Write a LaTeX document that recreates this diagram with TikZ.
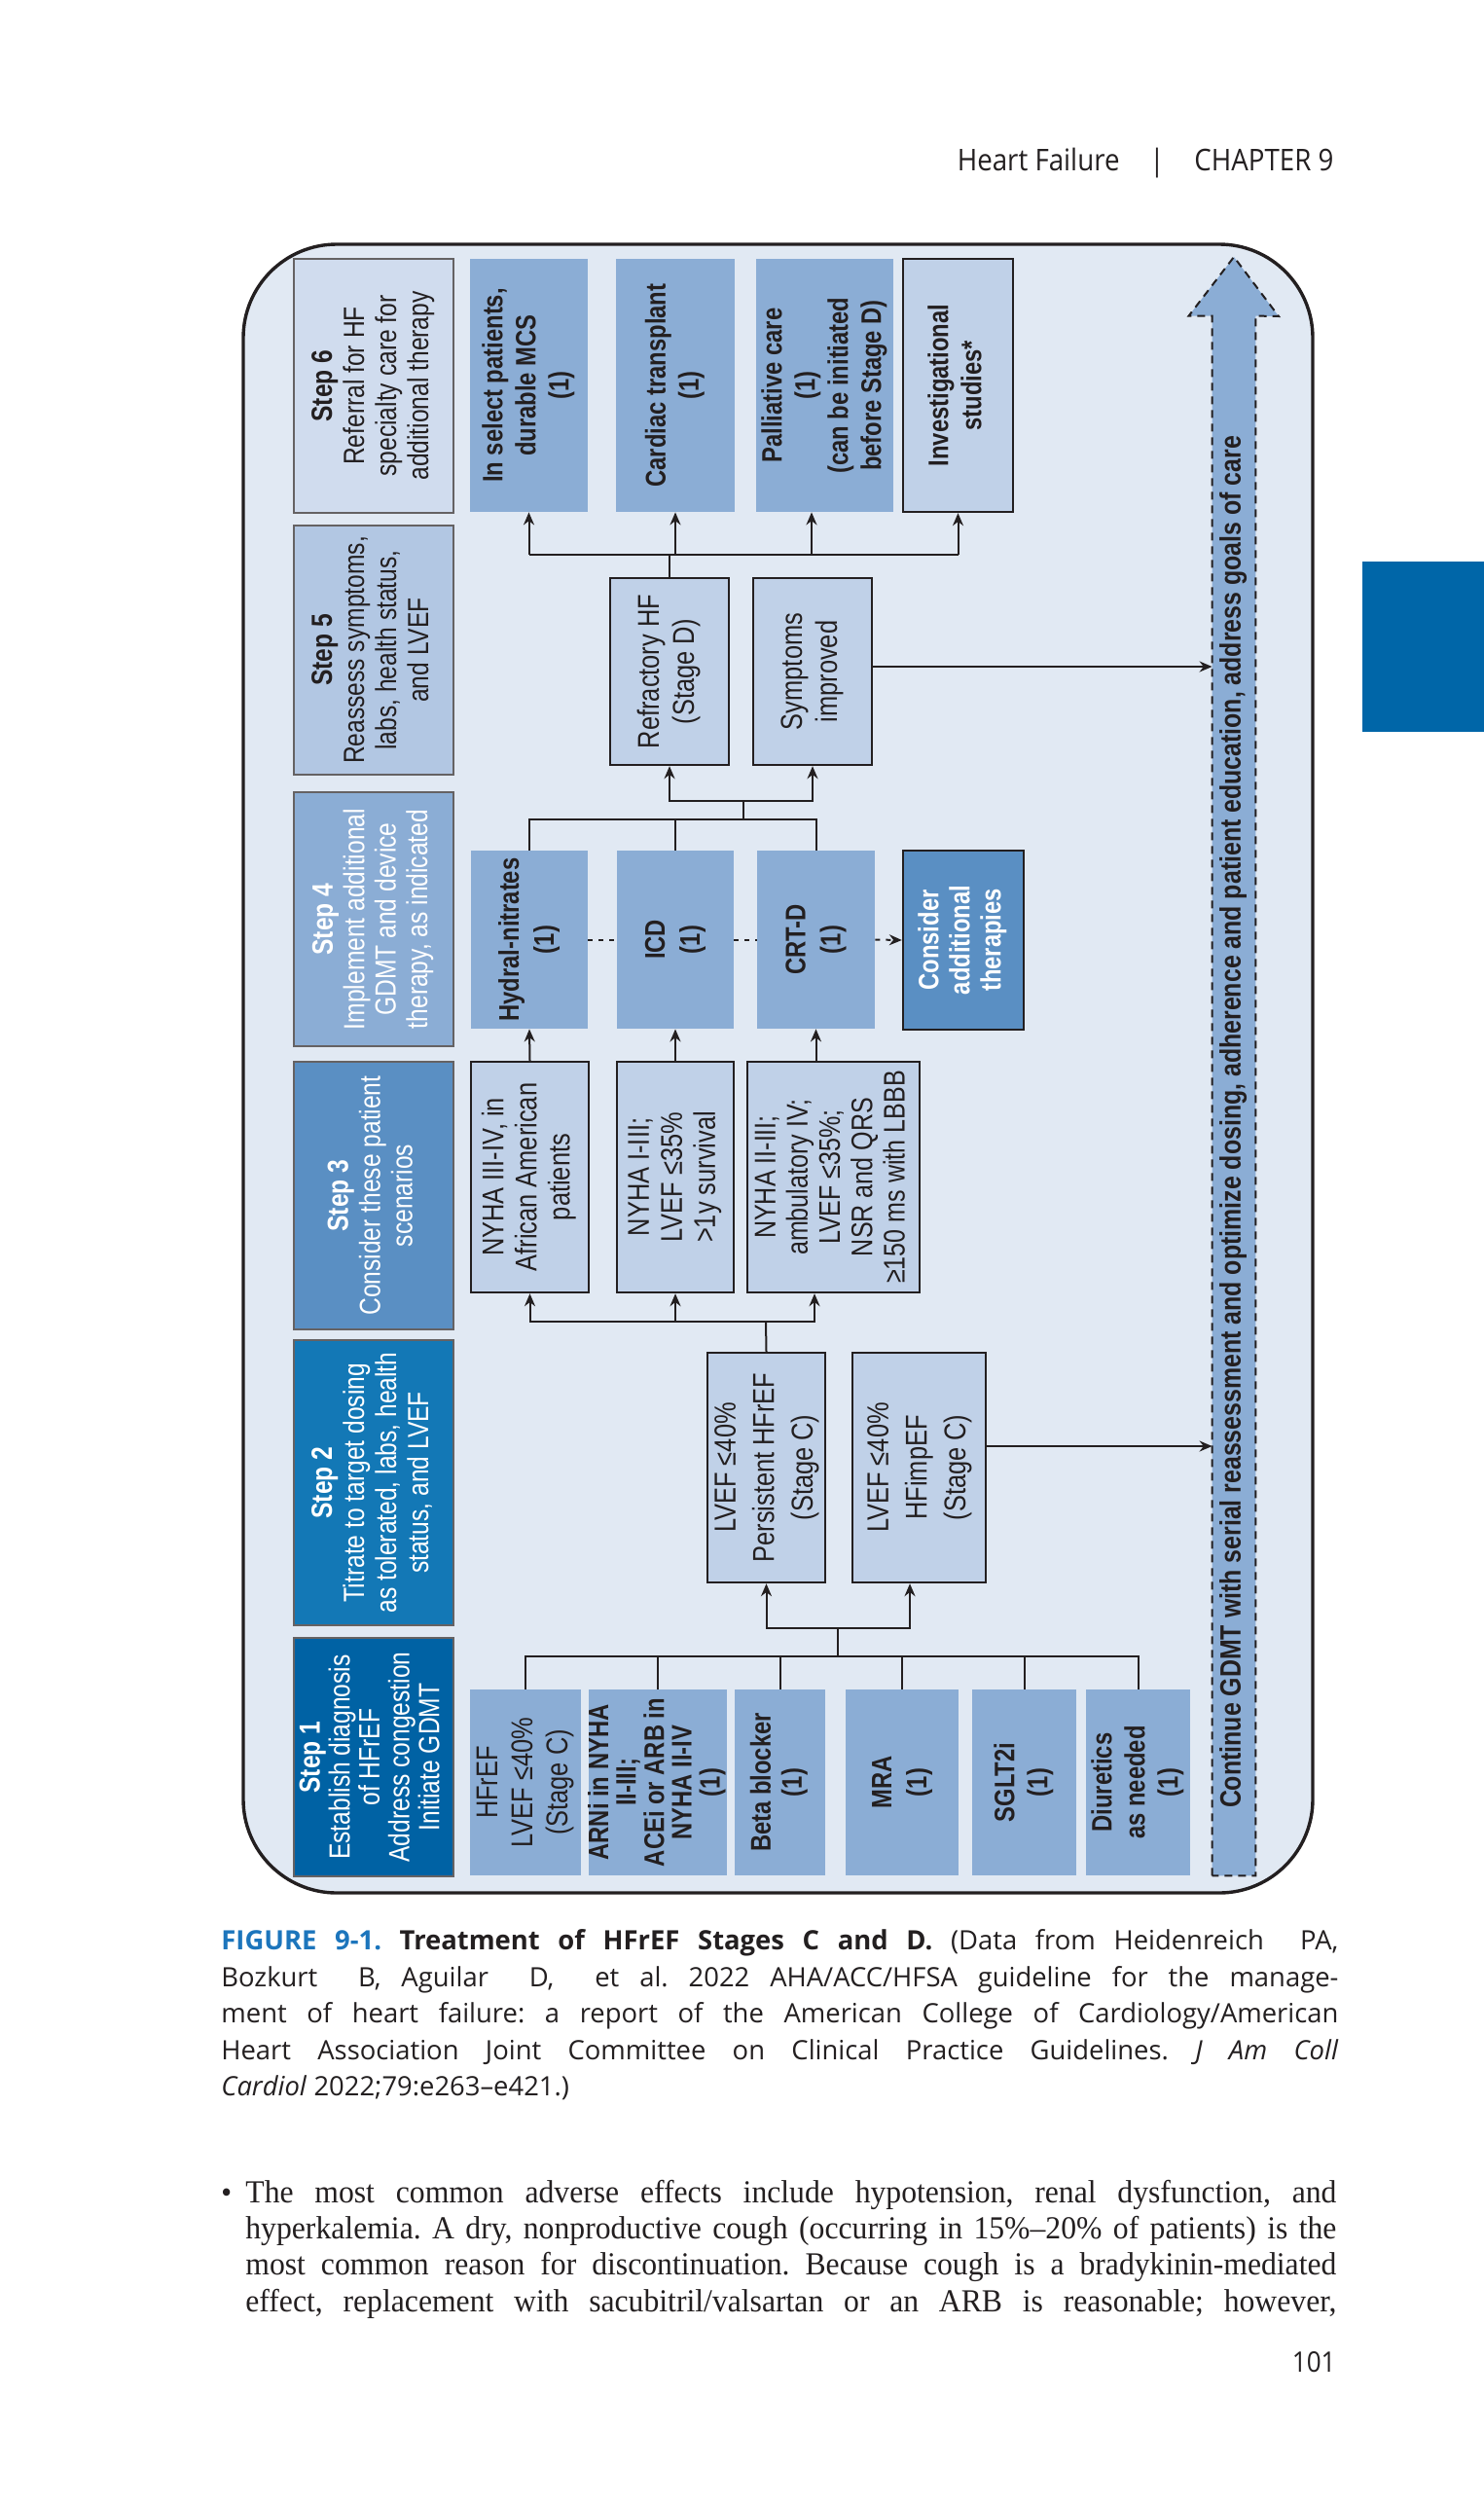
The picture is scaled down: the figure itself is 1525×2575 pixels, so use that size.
\documentclass[tikz,border=0pt]{standalone}
\usepackage{fontspec}
\usetikzlibrary{arrows.meta}
\setmainfont{Liberation Serif}
\newfontfamily\hv[FakeStretch=0.82]{Liberation Sans}
\newfontfamily\hvc[FakeStretch=0.83]{Liberation Sans}
\newfontfamily\myr[FakeStretch=0.9]{Open Sans}
\newfontfamily\myrc{Open Sans}
\newfontfamily\minion[FakeStretch=0.96]{Liberation Serif}
\frenchspacing
\definecolor{bg}{HTML}{E1E9F3}
\definecolor{sA}{HTML}{0062A4}
\definecolor{sB}{HTML}{1378B6}
\definecolor{sC}{HTML}{5A8FC3}
\definecolor{sD}{HTML}{8BADD5}
\definecolor{sE}{HTML}{B2C7E3}
\definecolor{sF}{HTML}{D0DCEE}
\definecolor{med}{HTML}{8BADD5}
\definecolor{light}{HTML}{C0D1E8}
\definecolor{ink}{HTML}{231F20}
\definecolor{tab}{HTML}{0066A8}
\definecolor{figblue}{HTML}{1C75BC}
\newcommand\rt[1]{\makebox[0pt]{\raisebox{-0.5\height}[0pt][0pt]{\rotatebox{90}{\begin{tabular}{@{}c@{}}#1\end{tabular}}}}}
\newcommand\fS{\hv\fontsize{15}{16.5}\selectfont}
\newcommand\fB{\hv\bfseries\fontsize{14.5}{17}\selectfont}
\newcommand\fR{\hv\fontsize{15.5}{17}\selectfont}
\newcommand\bx[7]{\node[#2,minimum width={(#5-#3)*0.5pt},minimum height={(#6-#4)*0.5pt}] (#1) at ({(#3+#5)/2},{(#4+#6)/2}) {\rt{#7}};}
\begin{document}
\begin{tikzpicture}[x=0.5pt,y=-0.5pt,
  conn/.style={draw=ink,line width=1pt},
  arr/.style={conn,-{Stealth[length=6.5pt,width=5.5pt]}},
  stepbox/.style={draw=ink!70,line width=0.6pt,inner sep=0pt,font=\fS},
  medbox/.style={fill=med,inner sep=0pt,text=ink,font=\fB},
  lightbox/.style={fill=light,draw=ink,line width=1.2pt,inner sep=0pt,text=ink,font=\fR},
  txt/.style={inner sep=0pt,text=ink}]
\useasboundingbox (0,0) rectangle (1525,2575);
% page header
\node[txt,anchor=base east,font=\myr\fontsize{15.4}{18}\selectfont] (hdra) at (1151,175) {Heart Failure};
\node[txt,anchor=base,font=\myr\fontsize{15.4}{18}\selectfont] (hdrb) at (1189,175) {|};
\node[txt,anchor=base west,font=\myr\fontsize{15.4}{18}\selectfont] (hdrc) at (1227,175) {CHAPTER 9};
\node[fill=tab,inner sep=0pt,minimum width=62.5pt,minimum height=87.5pt] (tabr) at (1462.5,664.5) {};
% frame
\node[draw=ink,fill=bg,line width=1.7pt,rounded corners=48pt,inner sep=0pt,minimum width={(1349-250)*0.5pt},minimum height={(1945-251)*0.5pt}] (frame) at ({(250+1349)/2},{(251+1945)/2}) {};
% step column
\bx{sf}{stepbox,fill=sF,text=ink}{302}{266}{466}{527}{\textbf{Step 6}\\Referral for HF\\specialty care for\\additional therapy}
\bx{se}{stepbox,fill=sE,text=ink}{302}{540}{466}{796}{\textbf{Step 5}\\Reassess symptoms,\\labs, health status,\\and LVEF}
\bx{sd}{stepbox,fill=sD,text=white,font=\hv\fontsize{15}{16.2}\selectfont}{302}{814}{466}{1075}{\textbf{Step 4}\\Implement additional\\GDMT and device\\therapy, as indicated}
\bx{sc}{stepbox,fill=sC,text=white}{302}{1091}{466}{1366}{\textbf{Step 3}\\Consider these patient\\scenarios}
\bx{sb}{stepbox,fill=sB,text=white}{302}{1377}{466}{1670}{\textbf{Step 2}\\Titrate to target dosing\\as tolerated, labs, health\\status, and LVEF}
\bx{sa}{stepbox,fill=sA,text=white,font=\hv\fontsize{15}{15}\selectfont}{302}{1683}{466}{1928}{\textbf{Step 1}\\Establish diagnosis\\of HFrEF\\Address congestion\\Initiate GDMT}
% step 6 options
\bx{mcs}{medbox}{483}{266}{604}{526}{In select patients,\\durable MCS\\(1)}
\bx{tx}{medbox}{633}{266}{755}{526}{Cardiac transplant\\(1)}
\bx{pal}{medbox}{777}{266}{918}{526}{Palliative care\\(1)\\(can be initiated\\before Stage D)}
\bx{inv}{lightbox,font=\fB}{928}{266}{1041}{526}{Investigational\\studies*}
% step 5
\bx{refr}{lightbox,font=\hv\fontsize{15.5}{18}\selectfont}{627}{594}{749}{786}{Refractory HF\\(Stage D)}
\bx{symp}{lightbox,font=\hv\fontsize{15.5}{18}\selectfont}{774}{594}{896}{786}{Symptoms\\improved}
% step 4
\bx{hydral}{medbox,font=\hv\bfseries\fontsize{14.5}{18}\selectfont}{484}{874}{604}{1057}{Hydral-nitrates\\(1)}
\bx{icd}{medbox,font=\hv\bfseries\fontsize{14.5}{18}\selectfont}{634}{874}{754}{1057}{ICD\\(1)}
\bx{crtd}{medbox,font=\hv\bfseries\fontsize{14.5}{18}\selectfont}{778}{874}{899}{1057}{CRT-D\\(1)}
\bx{cons}{lightbox,fill=sC,text=white,font=\hv\bfseries\fontsize{14.5}{16}\selectfont}{928}{874}{1052}{1058}{Consider\\additional\\therapies}
% step 3
\bx{nya}{lightbox}{484}{1091}{605}{1328}{NYHA III-IV, in\\African American\\patients}
\bx{nyb}{lightbox}{634}{1091}{754}{1328}{NYHA I-III;\\LVEF ≤35\%\\>1y survival}
\bx{nyc}{lightbox,font=\hv\fontsize{15.3}{16.6}\selectfont}{768}{1091}{945}{1328}{NYHA II-III;\\ambulatory IV;\\LVEF ≤35\%;\\NSR and QRS\\≥150 ms with LBBB}
% step 2
\bx{lvef}{lightbox,font=\hv\fontsize{15.5}{19.8}\selectfont}{727}{1390}{848}{1626}{LVEF ≤40\%\\Persistent HFrEF\\(Stage C)}
\bx{impr}{lightbox,font=\hv\fontsize{15.5}{19.8}\selectfont}{876}{1390}{1013}{1626}{LVEF ≤40\%\\HFimpEF\\(Stage C)}
% step 1
\bx{hfref}{medbox,font=\hv\fontsize{15.5}{18}\selectfont}{483}{1736}{597}{1927}{HFrEF\\LVEF ≤40\%\\(Stage C)}
\bx{arni}{medbox,font=\hv\bfseries\fontsize{14.5}{13.6}\selectfont}{605}{1736}{747}{1927}{ARNi in NYHA\\II-III;\\ACEi or ARB in\\NYHA II-IV\\(1)}
\bx{beta}{medbox,font=\hv\bfseries\fontsize{14.5}{16}\selectfont}{755}{1736}{848}{1927}{Beta blocker\\(1)}
\bx{mra}{medbox,font=\hv\bfseries\fontsize{14.5}{18}\selectfont}{869}{1736}{985}{1927}{MRA\\(1)}
\bx{sglt}{medbox,font=\hv\bfseries\fontsize{14.5}{17}\selectfont}{999}{1736}{1106}{1927}{SGLT2i\\(1)}
\bx{diur}{medbox,font=\hv\bfseries\fontsize{14.5}{17}\selectfont}{1116}{1736}{1223}{1927}{Diuretics\\as needed\\(1)}
% big arrow
\node[inner sep=0pt,minimum width=22pt,minimum height={(1927-325)*0.5pt}] (shaft) at (1268,{(325+1927)/2}) {};
\draw[draw=ink,fill=med,line width=1pt,dash pattern=on 4pt off 3pt] (shaft.south west) -- (shaft.north west) -- ++(-24,0) -- (1268,264) -- (1314,325) -- (shaft.north east) -- (shaft.south east) -- cycle;
\node[txt,font=\hvc\bfseries\fontsize{15}{17}\selectfont] (cont) at (1268,1153) {\rt{Continue GDMT with serial reassessment and optimize dosing, adherence and patient education, address goals of care}};
% connectors step1 -> step2
\coordinate (ja) at (861,1702);
\coordinate (jb) at (861,1673);
\draw[conn] (hfref.north) -- (hfref.north |- ja) -- (diur.north |- ja) -- (diur.north);
\foreach \n in {arni,beta,mra,sglt} \draw[conn] (\n.north) -- (\n.north |- ja);
\draw[conn] (ja) -- (jb);
\draw[arr] (jb) -| (lvef.south);
\draw[arr] (jb) -| ([xshift=-4.75pt]impr.south);
% step2 -> step3
\coordinate (jc) at (787,1358);
\draw[conn] (lvef.north) -- (jc);
\draw[arr] (jc) -| (nya.south);
\draw[arr] (nyb.south |- jc) -- (nyb.south);
\draw[arr] (jc) -| ([xshift=-9.75pt]nyc.south);
\draw[arr] ([yshift=11pt]impr.east) -- ([yshift=11pt]impr.east -| shaft.west);
% step3 -> step4
\draw[arr] (nya.north) -- (hydral.south);
\draw[arr] (nyb.north) -- (icd.south);
\draw[arr] (crtd.south |- nyc.north) -- (crtd.south);
\draw[conn,dash pattern=on 2.5pt off 3pt] (hydral.east) -- (icd.west);
\draw[conn,dash pattern=on 2.5pt off 3pt] (icd.east) -- (crtd.west);
\draw[arr,dash pattern=on 2.5pt off 3pt] (crtd.east) -- (cons.west);
% step4 -> step5
\coordinate (jd) at (764,842);
\coordinate (je) at (764,823);
\draw[conn] (hydral.north) -- (hydral.north |- jd) -- (crtd.north |- jd) -- (crtd.north);
\draw[conn] (icd.north) -- (icd.north |- jd);
\draw[conn] (jd) -- (je);
\draw[arr] (je) -| (refr.south);
\draw[arr] (je) -| (symp.south);
\draw[arr] ([yshift=2.5pt]symp.east) -- ([yshift=2.5pt]symp.east -| shaft.west);
% step5 -> step6
\coordinate (jf) at (688,570);
\draw[conn] (refr.north) -- (jf);
\draw[conn] (mcs.south |- jf) -- (inv.south |- jf);
\draw[arr] (mcs.south |- jf) -- (mcs.south);
\draw[arr] (tx.south |- jf) -- (tx.south);
\draw[arr] ([xshift=-6.75pt]pal.south |- jf) -- ([xshift=-6.75pt]pal.south);
\draw[arr] (inv.south |- jf) -- (inv.south);
% caption
\node[txt,anchor=base west,font=\myrc\fontsize{13.7}{18}\selectfont] (capa) at (227,2003) {\makebox[574pt][s]{\textcolor{figblue}{\bfseries FIGURE 9-1.} \textbf{Treatment of HFrEF Stages C and D.} (Data from Heidenreich~ PA,}};
\node[txt,anchor=base west,font=\myrc\fontsize{13.7}{18}\selectfont] (capb) at (227,2041) {\makebox[574pt][s]{Bozkurt~ B, Aguilar~ D,~ et al. 2022 AHA/ACC/HFSA guideline for the manage-}};
\node[txt,anchor=base west,font=\myrc\fontsize{13.7}{18}\selectfont] (capc) at (227,2078) {\makebox[574pt][s]{ment of heart failure: a report of the American College of Cardiology/American}};
\node[txt,anchor=base west,font=\myrc\fontsize{13.7}{18}\selectfont] (capd) at (227,2116) {\makebox[574pt][s]{Heart Association Joint Committee on Clinical Practice Guidelines. \textit{J Am Coll}}};
\node[txt,anchor=base west,font=\myrc\fontsize{13.7}{18}\selectfont] (cape) at (227,2153) {\textit{Cardiol} 2022;79:e263–e421.)};
% body text
\node[txt,anchor=base west,font=\minion\fontsize{16}{18}\selectfont] (bul) at (227,2263) {\textbullet};
\node[txt,anchor=base west,font=\minion\fontsize{16.5}{18.75}\selectfont] (bda) at (252,2263) {\makebox[560.5pt][s]{The most common adverse effects include hypotension, renal dysfunction, and}};
\node[txt,anchor=base west,font=\minion\fontsize{16.5}{18.75}\selectfont] (bdb) at (252,2300) {\makebox[560.5pt][s]{hyperkalemia. A dry, nonproductive cough (occurring in 15\%–20\% of patients) is the}};
\node[txt,anchor=base west,font=\minion\fontsize{16.5}{18.75}\selectfont] (bdc) at (252,2337) {\makebox[560.5pt][s]{most common reason for discontinuation. Because cough is a bradykinin-mediated}};
\node[txt,anchor=base west,font=\minion\fontsize{16.5}{18.75}\selectfont] (bdd) at (252,2375) {\makebox[560.5pt][s]{effect, replacement with sacubitril/valsartan or an ARB is reasonable; however,}};
\node[txt,anchor=base east,font=\myr\fontsize{14.5}{18}\selectfont] (pgno) at (1373,2437) {101};
\end{tikzpicture}
\end{document}
